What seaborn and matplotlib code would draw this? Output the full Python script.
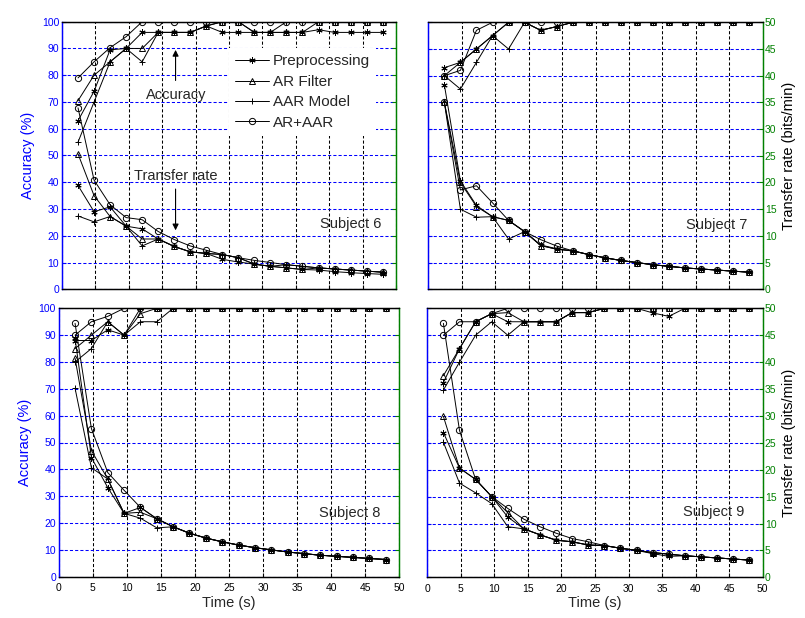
import matplotlib
matplotlib.use("Agg")
import matplotlib.pyplot as plt
from matplotlib.lines import Line2D
import seaborn as sns

# time axis (s), shared by all subjects
TIME = [2.4, 4.8, 7.2, 9.6, 12, 14.4, 16.8, 19.2, 21.6, 24,
        26.4, 28.8, 31.2, 33.6, 36, 38.4, 40.8, 43.2, 45.6, 48]

# ---- Subject 6: accuracy (%) ----
acc_pre_s6 = [63, 74, 89.5, 90, 96, 96, 96, 96, 98.4, 96, 96, 96, 96, 96, 96, 97, 96, 96, 96, 96]
acc_ar_s6 = [70.5, 80, 85, 90, 90, 96, 96, 96, 98.4, 100, 100, 96, 96, 96, 96, 100, 100, 100, 100, 100]
acc_aar_s6 = [55, 70, 85, 90, 85, 96, 96, 96, 98.4, 100, 100, 96, 96, 100, 100, 100, 100, 100, 100, 100]
acc_both_s6 = [79, 85, 90.3, 94.4, 100, 100, 100, 100, 100, 100, 100, 100, 100, 100, 100, 100, 100, 100, 100, 100]
# ---- Subject 6: transfer rate (bits/min) ----
tr_pre_s6 = [19.4, 14.5, 15.4, 11.8, 11.3, 9.4, 8.0, 7.0, 6.7, 5.6, 5.1, 4.7, 4.3, 4.0, 3.7, 3.6, 3.3, 3.1, 2.95, 2.8]
tr_ar_s6 = [25.3, 17.5, 13.6, 11.8, 9.4, 9.4, 8.0, 7.0, 6.7, 6.5, 5.9, 4.7, 4.3, 4.0, 3.7, 4.0, 3.8, 3.6, 3.4, 3.2]
tr_aar_s6 = [13.7, 12.6, 13.6, 11.8, 8.1, 9.4, 8.0, 7.0, 6.7, 6.5, 5.9, 4.7, 4.3, 4.6, 4.3, 4.0, 3.8, 3.6, 3.4, 3.2]
tr_both_s6 = [33.9, 20.4, 15.8, 13.4, 13.0, 10.8, 9.3, 8.1, 7.3, 6.5, 5.9, 5.4, 5.0, 4.6, 4.3, 4.0, 3.8, 3.6, 3.4, 3.2]

# ---- Subject 7 ----
acc_pre_s7 = [83, 85, 90, 95, 100, 100, 97, 98.4, 100, 100, 100, 100, 100, 100, 100, 100, 100, 100, 100, 100]
acc_ar_s7 = [80, 85, 90, 95, 100, 100, 97, 98.4, 100, 100, 100, 100, 100, 100, 100, 100, 100, 100, 100, 100]
acc_aar_s7 = [80, 75, 85, 95, 90, 100, 97, 98.4, 100, 100, 100, 100, 100, 100, 100, 100, 100, 100, 100, 100]
acc_both_s7 = [80, 82, 97, 100, 100, 100, 100, 100, 100, 100, 100, 100, 100, 100, 100, 100, 100, 100, 100, 100]
tr_pre_s7 = [38.3, 20.3, 15.7, 13.6, 12.9, 10.8, 8.3, 7.6, 7.2, 6.5, 5.9, 5.4, 5.0, 4.6, 4.3, 4.0, 3.8, 3.6, 3.4, 3.2]
tr_ar_s7 = [35.0, 20.0, 15.5, 13.6, 12.9, 10.8, 8.2, 7.5, 7.2, 6.5, 5.9, 5.4, 5.0, 4.6, 4.3, 4.0, 3.8, 3.6, 3.4, 3.2]
tr_aar_s7 = [35.0, 15.0, 13.5, 13.6, 9.4, 10.8, 8.2, 7.5, 7.2, 6.5, 5.9, 5.4, 5.0, 4.6, 4.3, 4.0, 3.8, 3.6, 3.4, 3.2]
tr_both_s7 = [35.0, 18.6, 19.4, 16.2, 12.9, 10.8, 9.3, 8.1, 7.2, 6.5, 5.9, 5.4, 5.0, 4.6, 4.3, 4.0, 3.8, 3.6, 3.4, 3.2]

# ---- Subject 8 ----
acc_pre_s8 = [88, 88, 92, 90, 100, 100, 100, 100, 100, 100, 100, 100, 100, 100, 100, 100, 100, 100, 100, 100]
acc_ar_s8 = [85, 90, 95, 90, 98, 100, 100, 100, 100, 100, 100, 100, 100, 100, 100, 100, 100, 100, 100, 100]
acc_aar_s8 = [80, 85, 95, 90, 95, 95, 100, 100, 100, 100, 100, 100, 100, 100, 100, 100, 100, 100, 100, 100]
acc_both_s8 = [90, 95, 97, 100, 100, 100, 100, 100, 100, 100, 100, 100, 100, 100, 100, 100, 100, 100, 100, 100]
tr_pre_s8 = [44.4, 22.2, 16.6, 11.8, 12.9, 10.8, 9.3, 8.1, 7.2, 6.5, 5.9, 5.4, 5.0, 4.6, 4.3, 4.0, 3.8, 3.6, 3.4, 3.2]
tr_ar_s8 = [40.7, 23.5, 18.2, 11.8, 12.0, 10.8, 9.3, 8.1, 7.2, 6.5, 5.9, 5.4, 5.0, 4.6, 4.3, 4.0, 3.8, 3.6, 3.4, 3.2]
tr_aar_s8 = [35.1, 20.3, 18.2, 11.8, 10.9, 9.1, 9.3, 8.1, 7.2, 6.5, 5.9, 5.4, 5.0, 4.6, 4.3, 4.0, 3.8, 3.6, 3.4, 3.2]
tr_both_s8 = [47.2, 27.6, 19.4, 16.1, 12.9, 10.8, 9.3, 8.1, 7.2, 6.5, 5.9, 5.4, 5.0, 4.6, 4.3, 4.0, 3.8, 3.6, 3.4, 3.2]

# ---- Subject 9 ----
acc_pre_s9 = [72.4, 85, 95, 98, 95, 95, 95, 95, 98.4, 98.4, 100, 100, 100, 98.3, 97, 100, 100, 100, 100, 100]
acc_ar_s9 = [75, 85, 95, 98, 98.4, 95, 95, 95, 98.4, 98.4, 100, 100, 100, 100, 100, 100, 100, 100, 100, 100]
acc_aar_s9 = [69.6, 80, 90, 95, 90, 95, 95, 95, 98.4, 98.4, 100, 100, 100, 100, 100, 100, 100, 100, 100, 100]
acc_both_s9 = [90, 95, 95, 98, 100, 100, 100, 100, 100, 100, 100, 100, 100, 100, 100, 100, 100, 100, 100, 100]
tr_pre_s9 = [26.9, 20.3, 18.2, 15.0, 11.2, 9.0, 7.9, 6.9, 6.6, 6.0, 5.9, 5.4, 5.0, 4.4, 3.9, 4.0, 3.8, 3.6, 3.4, 3.2]
tr_ar_s9 = [29.9, 20.3, 18.2, 15.0, 12.0, 9.0, 7.9, 6.9, 6.6, 6.0, 5.9, 5.4, 5.0, 4.6, 4.3, 4.0, 3.8, 3.6, 3.4, 3.2]
tr_aar_s9 = [25.1, 17.5, 15.7, 13.7, 9.4, 9.0, 7.9, 6.9, 6.6, 6.0, 5.9, 5.4, 5.0, 4.6, 4.3, 4.0, 3.8, 3.6, 3.4, 3.2]
tr_both_s9 = [47.2, 27.3, 18.2, 15.0, 12.8, 10.8, 9.4, 8.2, 7.2, 6.6, 5.9, 5.4, 5.0, 4.6, 4.3, 4.0, 3.8, 3.6, 3.4, 3.2]

SERIES_NAMES = ["Preprocessing", "AR Filter", "AAR Model", "AR+AAR"]
MARKERS = [(6, 2, 0), "^", "+", "o"]

BLUE = "#0000ff"
GREEN = "#008000"

sns.set_style("ticks")
plt.rcParams["font.family"] = ["Liberation Sans", "DejaVu Sans"]

fig = plt.figure(figsize=(8.05, 6.18), dpi=100)

W, H = 805.0, 618.0


def rect(x0, y0, x1, y1):
    # pixel box (top-left origin) -> figure fraction
    return [x0 / W, 1 - y1 / H, (x1 - x0) / W, (y1 - y0) / H]


def draw_panel(box, accs, rates, subject, txt_x, txt_y, left_lab, right_lab, x_lab):
    ax = fig.add_axes(rect(*box))
    ax2 = ax.twinx()
    for mk, a, r in zip(MARKERS, accs, rates):
        for axis, vals in ((ax, a), (ax2, r)):
            sns.lineplot(x=TIME, y=vals, ax=axis, color="k", lw=0.7,
                         marker=mk, ms=4.5, mfc="none", mec="k", mew=0.7,
                         estimator=None, errorbar=None)
    ax.set_xlim(0, 50)
    ax.set_ylim(0, 100)
    ax2.set_ylim(0, 50)
    ax.set_xticks(range(0, 51, 5))
    ax.set_yticks(range(0, 101, 10))
    ax2.set_yticks(range(0, 51, 5))

    dash = (0, (3, 2))
    ax.yaxis.grid(True, color=BLUE, ls=dash, lw=0.75)
    ax.xaxis.grid(True, color="k", ls=dash, lw=0.75)

    for a in (ax, ax2):
        a.spines["left"].set_color(BLUE)
        a.spines["right"].set_color(GREEN)
        a.spines["top"].set_color("k")
        a.spines["bottom"].set_color("k")
        for s in a.spines.values():
            s.set_linewidth(0.9)
            s.set_visible(True)

    ax.tick_params(axis="y", direction="in", length=3, colors=BLUE,
                   labelsize=7.5, pad=2, labelleft=left_lab)
    ax.tick_params(axis="x", direction="in", length=3, colors="k",
                   labelsize=7.5, pad=4.5, labelbottom=x_lab)
    ax2.tick_params(axis="y", direction="in", length=3, colors=GREEN,
                    labelsize=7.5, pad=1.5, labelright=right_lab)

    if left_lab:
        ax.set_ylabel("Accuracy (%)", color=BLUE, fontsize=10.5, labelpad=5)
    if right_lab:
        ax2.set_ylabel("Transfer rate (bits/min)", color="k", fontsize=10.5, labelpad=4)
    if x_lab:
        ax.set_xlabel("Time (s)", fontsize=10.5, labelpad=2)

    ax.text(txt_x, txt_y, subject, fontsize=10.5, ha="left", va="center")
    return ax, ax2


ax6, ax6b = draw_panel((62, 21.7, 396, 289.3),
                       [acc_pre_s6, acc_ar_s6, acc_aar_s6, acc_both_s6],
                       [tr_pre_s6, tr_ar_s6, tr_aar_s6, tr_both_s6],
                       "Subject 6", 38.6, 24.4, True, False, False)
draw_panel((428.3, 22.3, 762.7, 289.3),
           [acc_pre_s7, acc_ar_s7, acc_aar_s7, acc_both_s7],
           [tr_pre_s7, tr_ar_s7, tr_aar_s7, tr_both_s7],
           "Subject 7", 38.5, 24.1, False, True, False)
draw_panel((58.7, 308.3, 399.3, 576.7),
           [acc_pre_s8, acc_ar_s8, acc_aar_s8, acc_both_s8],
           [tr_pre_s8, tr_ar_s8, tr_aar_s8, tr_both_s8],
           "Subject 8", 38.2, 23.7, True, False, True)
draw_panel((427.3, 308.3, 762.7, 577.3),
           [acc_pre_s9, acc_ar_s9, acc_aar_s9, acc_both_s9],
           [tr_pre_s9, tr_ar_s9, tr_aar_s9, tr_both_s9],
           "Subject 9", 38.1, 24.3, False, True, True)

# annotations in the first panel
ax6.text(17.1, 72.6, "Accuracy", fontsize=10.5, ha="center", va="center")
ax6.annotate("", xy=(17.0, 90.5), xytext=(17.0, 77),
             arrowprops=dict(arrowstyle="-|>", color="k", lw=0.8, mutation_scale=9))
ax6.text(17.0, 42.3, "Transfer rate", fontsize=10.5, ha="center", va="center")
ax6.annotate("", xy=(17.0, 21.0), xytext=(17.0, 38.5),
             arrowprops=dict(arrowstyle="-|>", color="k", lw=0.8, mutation_scale=9))

handles = [Line2D([], [], color="k", lw=0.7, marker=mk, ms=4.5, mfc="none",
                  mec="k", mew=0.7) for mk in MARKERS]
leg = ax6b.legend(handles, SERIES_NAMES, loc="upper left",
                  bbox_to_anchor=(0.5, 0.9005), fontsize=11, frameon=True,
                  fancybox=False, framealpha=1, facecolor="white",
                  edgecolor="none", handlelength=2.2, handletextpad=0.25,
                  labelspacing=0.42, borderpad=0.4, borderaxespad=0)

fig.savefig("out.png", dpi=100)
